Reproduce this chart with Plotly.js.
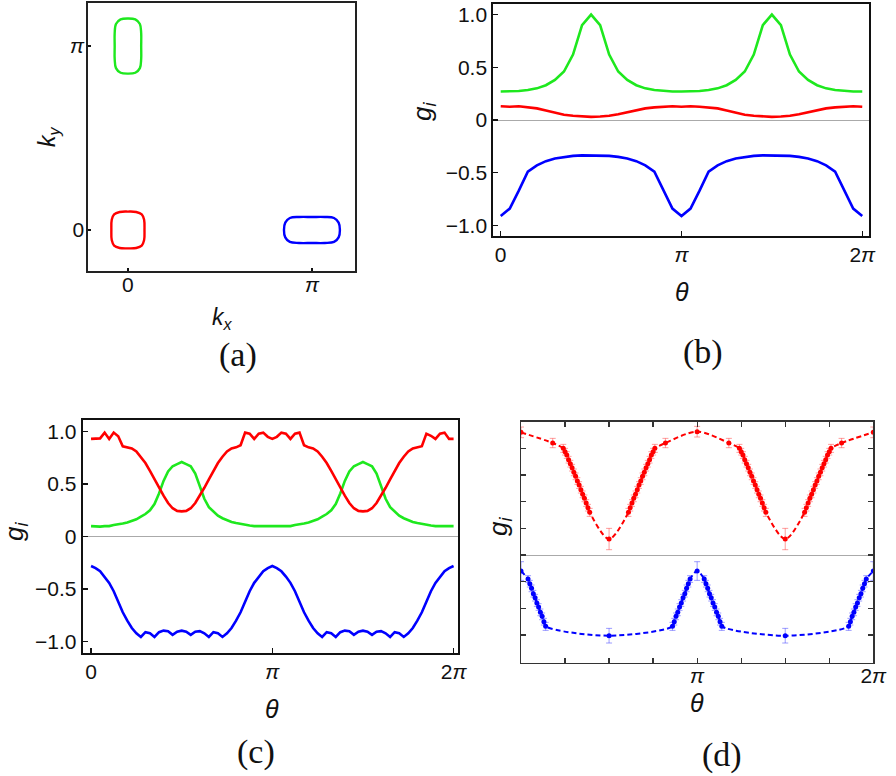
<!DOCTYPE html>
<html>
<head>
<meta charset="utf-8">
<script src="https://cdn.plot.ly/plotly-3.0.1.min.js"></script>
<style>html,body{margin:0;padding:0;background:#fff;} #plot{width:896px;height:776px;}</style>
</head>
<body>
<div id="plot"></div>
<script>
// ---------------- Panel (a): Fermi-surface contours (units of pi) ----------------
const redA_x   = [0.09, 0.088, 0.075, 0.045, 0, -0.045, -0.075, -0.088, -0.09, -0.088, -0.075, -0.045, 0, 0.045, 0.075, 0.088, 0.09];
const redA_y   = [0, 0.055, 0.085, 0.098, 0.10, 0.098, 0.085, 0.055, 0, -0.055, -0.085, -0.098, -0.10, -0.098, -0.085, -0.055, 0];
const greenA_x = [0.072, 0.072, 0.065, 0.04, 0, -0.04, -0.065, -0.072, -0.072, -0.072, -0.065, -0.04, 0, 0.04, 0.065, 0.072, 0.072];
const greenA_y = [1, 1.07, 1.12, 1.145, 1.15, 1.145, 1.12, 1.07, 1, 0.93, 0.88, 0.855, 0.85, 0.855, 0.88, 0.93, 1];
const blueA_x  = [1.152, 1.145, 1.12, 1.07, 1.0, 0.93, 0.88, 0.855, 0.848, 0.855, 0.88, 0.93, 1.0, 1.07, 1.12, 1.145, 1.152];
const blueA_y  = [0, 0.04, 0.065, 0.0707, 0.0707, 0.0707, 0.065, 0.04, 0, -0.04, -0.065, -0.0707, -0.0707, -0.0707, -0.065, -0.04, 0];
const tickA_vals = [0, 1];
const tickA_text = ['0', '<i>π</i>'];

// ---------------- Panel (b) ----------------
const thetaB = [0,0.05,0.1,0.15,0.2,0.25,0.3,0.35,0.4,0.45,0.5,0.55,0.6,0.65,0.7,0.75,0.8,0.85,0.9,0.95,
                1,1.05,1.1,1.15,1.2,1.25,1.3,1.35,1.4,1.45,1.5,1.55,1.6,1.65,1.7,1.75,1.8,1.85,1.9,1.95,2];
const greenB = [0.27,0.27,0.275,0.285,0.30,0.33,0.38,0.46,0.62,0.90,1.00,0.90,0.62,0.46,0.38,0.33,0.30,0.285,0.275,0.27,
                0.27,0.27,0.275,0.285,0.30,0.33,0.38,0.46,0.62,0.90,1.00,0.90,0.62,0.46,0.38,0.33,0.30,0.285,0.275,0.27,0.27];
const redB   = [0.13,0.125,0.13,0.12,0.11,0.09,0.07,0.05,0.04,0.033,0.03,0.033,0.04,0.055,0.075,0.095,0.11,0.12,0.125,0.13,
                0.125,0.13,0.125,0.12,0.11,0.09,0.07,0.05,0.04,0.033,0.03,0.033,0.04,0.055,0.075,0.095,0.11,0.12,0.125,0.13,0.125];
const blueB  = [-0.91,-0.84,-0.67,-0.49,-0.43,-0.39,-0.365,-0.35,-0.34,-0.335,-0.335,-0.335,-0.34,-0.35,-0.365,-0.39,-0.43,-0.49,-0.67,-0.84,
                -0.91,-0.84,-0.67,-0.49,-0.43,-0.39,-0.365,-0.35,-0.34,-0.335,-0.335,-0.335,-0.34,-0.35,-0.365,-0.39,-0.43,-0.49,-0.67,-0.84,-0.91];

// ---------------- Panel (c) ----------------
const thetaC = [0,0.025,0.05,0.075,0.1,0.125,0.15,0.175,0.2,0.225,0.25,0.275,0.3,0.325,0.35,0.375,0.4,0.425,0.45,0.475,
                0.5,0.525,0.55,0.575,0.6,0.625,0.65,0.675,0.7,0.725,0.75,0.775,0.8,0.825,0.85,0.875,0.9,0.925,0.95,0.975,
                1,1.025,1.05,1.075,1.1,1.125,1.15,1.175,1.2,1.225,1.25,1.275,1.3,1.325,1.35,1.375,1.4,1.425,1.45,1.475,
                1.5,1.525,1.55,1.575,1.6,1.625,1.65,1.675,1.7,1.725,1.75,1.775,1.8,1.825,1.85,1.875,1.9,1.925,1.95,1.975,2];
const redC   = [0.93,0.93,0.935,0.99,0.93,0.99,0.955,0.86,0.85,0.84,0.81,0.76,0.70,0.625,0.545,0.465,0.39,0.32,0.27,0.245,
                0.24,0.245,0.27,0.32,0.39,0.465,0.545,0.625,0.70,0.76,0.81,0.84,0.85,0.87,0.99,0.98,0.93,0.98,0.99,0.95,
                0.93,0.95,0.99,0.98,0.93,0.98,0.99,0.87,0.85,0.84,0.81,0.76,0.70,0.625,0.545,0.465,0.39,0.32,0.27,0.245,
                0.24,0.245,0.27,0.32,0.39,0.465,0.545,0.625,0.70,0.76,0.81,0.84,0.85,0.86,0.98,0.96,0.93,0.98,0.99,0.93,0.93];
const greenC = [0.10,0.095,0.095,0.10,0.10,0.11,0.115,0.125,0.135,0.15,0.165,0.19,0.215,0.25,0.31,0.41,0.53,0.62,0.67,0.69,
                0.71,0.69,0.67,0.60,0.47,0.36,0.28,0.235,0.20,0.175,0.155,0.14,0.13,0.12,0.11,0.105,0.10,0.10,0.095,0.095,
                0.095,0.095,0.095,0.10,0.10,0.11,0.115,0.125,0.135,0.15,0.165,0.19,0.215,0.25,0.31,0.41,0.53,0.62,0.67,0.69,
                0.71,0.69,0.67,0.60,0.47,0.36,0.28,0.235,0.20,0.175,0.155,0.14,0.13,0.12,0.11,0.105,0.10,0.10,0.095,0.095,0.10];
const blueC  = [-0.28,-0.30,-0.33,-0.38,-0.44,-0.52,-0.62,-0.72,-0.80,-0.87,-0.92,-0.955,-0.91,-0.92,-0.955,-0.91,-0.895,-0.90,-0.935,-0.905,
                -0.895,-0.905,-0.935,-0.905,-0.90,-0.92,-0.955,-0.91,-0.92,-0.955,-0.92,-0.87,-0.80,-0.72,-0.62,-0.52,-0.44,-0.38,-0.33,-0.30,
                -0.28,-0.30,-0.33,-0.38,-0.44,-0.52,-0.62,-0.72,-0.80,-0.87,-0.92,-0.955,-0.91,-0.92,-0.955,-0.91,-0.895,-0.90,-0.935,-0.905,
                -0.895,-0.905,-0.935,-0.905,-0.90,-0.92,-0.955,-0.91,-0.92,-0.955,-0.92,-0.87,-0.80,-0.72,-0.62,-0.52,-0.44,-0.38,-0.33,-0.30,-0.28];

// ---------------- Panel (d): data with error bars ----------------
const redD_theta = [0,0.18,0.24,0.25,0.26,0.27,0.28,0.29,0.30,0.31,0.32,0.33,0.34,0.35,0.36,0.37,0.38,0.39,
                    0.5,0.61,0.62,0.63,0.64,0.65,0.66,0.67,0.68,0.69,0.70,0.71,0.72,0.73,0.74,0.75,0.76,0.82,
                    1,1.18,1.24,1.25,1.26,1.27,1.28,1.29,1.30,1.31,1.32,1.33,1.34,1.35,1.36,1.37,1.38,1.39,
                    1.5,1.61,1.62,1.63,1.64,1.65,1.66,1.67,1.68,1.69,1.70,1.71,1.72,1.73,1.74,1.75,1.76,1.82,2];
const redD = [0.92,0.84,0.80,0.775,0.75,0.715,0.685,0.655,0.62,0.59,0.555,0.525,0.49,0.455,0.425,0.39,0.355,0.32,
              0.12,0.32,0.355,0.39,0.425,0.455,0.49,0.525,0.555,0.59,0.62,0.655,0.685,0.715,0.75,0.775,0.80,0.84,
              0.925,0.84,0.80,0.775,0.75,0.715,0.685,0.655,0.62,0.59,0.555,0.525,0.49,0.455,0.425,0.39,0.355,0.32,
              0.12,0.32,0.355,0.39,0.425,0.455,0.49,0.525,0.555,0.59,0.62,0.655,0.685,0.715,0.75,0.775,0.80,0.84,0.92];
const redD_err = [0.04,0.035,0.03,0.025,0.025,0.025,0.025,0.025,0.025,0.025,0.025,0.025,0.025,0.025,0.025,0.025,0.025,0.03,
                  0.08,0.03,0.025,0.025,0.025,0.025,0.025,0.025,0.025,0.025,0.025,0.025,0.025,0.025,0.025,0.025,0.03,0.035,
                  0.04,0.035,0.03,0.025,0.025,0.025,0.025,0.025,0.025,0.025,0.025,0.025,0.025,0.025,0.025,0.025,0.025,0.03,
                  0.08,0.03,0.025,0.025,0.025,0.025,0.025,0.025,0.025,0.025,0.025,0.025,0.025,0.025,0.025,0.025,0.03,0.035,0.04];
const blueD_theta = [0,0.04,0.05,0.06,0.07,0.08,0.09,0.10,0.11,0.12,0.13,0.14,
                     0.5,0.86,0.87,0.88,0.89,0.90,0.91,0.92,0.93,0.94,0.95,0.96,
                     1,1.04,1.05,1.06,1.07,1.08,1.09,1.10,1.11,1.12,1.13,1.14,
                     1.5,1.86,1.87,1.88,1.89,1.90,1.91,1.92,1.93,1.94,1.95,1.96,2];
const blueD = [-0.12,-0.18,-0.215,-0.25,-0.29,-0.32,-0.36,-0.39,-0.43,-0.46,-0.50,-0.535,
               -0.605,-0.535,-0.50,-0.46,-0.43,-0.39,-0.36,-0.32,-0.29,-0.25,-0.215,-0.18,
               -0.12,-0.18,-0.215,-0.25,-0.29,-0.32,-0.36,-0.39,-0.43,-0.46,-0.50,-0.535,
               -0.605,-0.535,-0.50,-0.46,-0.43,-0.39,-0.36,-0.32,-0.29,-0.25,-0.215,-0.18,-0.12];
const blueD_err = [0.07,0.025,0.025,0.025,0.025,0.025,0.025,0.025,0.025,0.025,0.025,0.03,
                   0.055,0.03,0.025,0.025,0.025,0.025,0.025,0.025,0.025,0.025,0.025,0.025,
                   0.07,0.025,0.025,0.025,0.025,0.025,0.025,0.025,0.025,0.025,0.025,0.03,
                   0.055,0.03,0.025,0.025,0.025,0.025,0.025,0.025,0.025,0.025,0.025,0.025,0.07];

const tickTheta_vals = [0, 1, 2];
const tickTheta_text = ['0', '<i>π</i>', '2<i>π</i>'];
const tickG_vals = [-1, -0.5, 0, 0.5, 1];
const tickG_text = ['−1.0', '−0.5', '0', '0.5', '1.0'];
const tickD_xvals = [0,0.25,0.5,0.75,1,1.25,1.5,1.75,2];
const tickD_xtext = ['','','','','<i>π</i>','','','','2<i>π</i>'];
const tickD_yvals = [-0.6,-0.4,-0.2,0,0.2,0.4,0.6,0.8];

// ---------------- styling ----------------
const RED = '#ff0000', GREEN = '#1ee81e', BLUE = '#0000ff';
const SANS = 'Liberation Sans, Arial, sans-serif';
const SERIF = 'Liberation Serif, Times New Roman, serif';
const W = 896, H = 776;
const px = v => v / W;
const py = v => 1 - v / H;

function lineTrace(x, y, color, xa, ya, w, shape) {
  return {x: x, y: y, xaxis: xa, yaxis: ya, type: 'scatter', mode: 'lines',
          line: {color: color, width: w || 2.6, shape: shape || 'linear', smoothing: 1},
          hoverinfo: 'skip', showlegend: false};
}
function dataTrace(x, y, err, color, errColor) {
  return {x: x, y: y, xaxis: 'x4', yaxis: 'y4', type: 'scatter', mode: 'lines+markers',
          line: {color: color, width: 2, dash: '5px,3px', shape: 'spline', smoothing: 0.9},
          marker: {color: color, size: 5},
          error_y: {type: 'data', array: err, visible: true, color: errColor, thickness: 1, width: 3},
          hoverinfo: 'skip', showlegend: false};
}

const traces = [
  lineTrace(redA_x, redA_y, RED, 'x', 'y', 2.4, 'spline'),
  lineTrace(greenA_x, greenA_y, GREEN, 'x', 'y', 2.4, 'spline'),
  lineTrace(blueA_x, blueA_y, BLUE, 'x', 'y', 2.4, 'spline'),
  lineTrace(thetaB, greenB, GREEN, 'x2', 'y2'),
  lineTrace(thetaB, redB, RED, 'x2', 'y2'),
  lineTrace(thetaB, blueB, BLUE, 'x2', 'y2'),
  lineTrace(thetaC, greenC, GREEN, 'x3', 'y3'),
  lineTrace(thetaC, redC, RED, 'x3', 'y3'),
  lineTrace(thetaC, blueC, BLUE, 'x3', 'y3'),
  dataTrace(redD_theta, redD, redD_err, RED, 'rgba(255,60,60,0.5)'),
  dataTrace(blueD_theta, blueD, blueD_err, BLUE, 'rgba(60,60,255,0.5)')
];

function frameAxis(extra) {
  return Object.assign({
    showline: true, mirror: true, linecolor: '#111', linewidth: 2,
    showgrid: false, zeroline: false, ticks: 'inside', ticklen: 5, tickwidth: 1.5, tickcolor: '#111',
    tickmode: 'array', fixedrange: true
  }, extra);
}
const TF = {family: SANS, size: 21, color: '#111'};

const layout = {
  width: W, height: H, autosize: false,
  margin: {l: 0, r: 0, t: 0, b: 0, pad: 0},
  paper_bgcolor: '#fff', plot_bgcolor: '#fff',
  showlegend: false,
  font: {family: SANS, color: '#111'},
  // (a)
  xaxis: frameAxis({domain: [px(88), px(355)], range: [-0.217, 1.234], anchor: 'y',
         tickvals: tickA_vals, ticktext: tickA_text, ticklen: 3, linewidth: 1.6, linecolor: '#222',
         tickfont: TF, ticklabelstandoff: -6}),
  yaxis: frameAxis({domain: [py(271), py(3)], range: [-0.223, 1.234], anchor: 'x',
         tickvals: tickA_vals, ticktext: tickA_text, ticklen: 3, linewidth: 1.6, linecolor: '#222',
         tickfont: TF, ticklabelstandoff: -2}),
  // (b)
  xaxis2: frameAxis({domain: [px(493.3), px(869.3)], range: [-0.041, 2.039], anchor: 'y2',
          tickvals: tickTheta_vals, ticktext: tickTheta_text,
          tickfont: TF, ticklabelstandoff: -1}),
  yaxis2: frameAxis({domain: [py(236), py(4)], range: [-1.1, 1.1], anchor: 'x2',
          tickvals: tickG_vals, ticktext: tickG_text,
          zeroline: true, zerolinecolor: '#aaaaaa', zerolinewidth: 1,
          tickfont: TF, ticklabelstandoff: 0}),
  // (c)
  xaxis3: frameAxis({domain: [px(82.7), px(458.3)], range: [-0.046, 2.026], anchor: 'y3',
          tickvals: tickTheta_vals, ticktext: tickTheta_text,
          tickfont: TF, ticklabelstandoff: -1}),
  yaxis3: frameAxis({domain: [py(652.7), py(420)], range: [-1.105, 1.11], anchor: 'x3',
          tickvals: tickG_vals, ticktext: tickG_text,
          zeroline: true, zerolinecolor: '#aaaaaa', zerolinewidth: 1,
          tickfont: TF, ticklabelstandoff: 0}),
  // (d)
  xaxis4: frameAxis({domain: [px(521), px(873.3)], range: [0, 2], anchor: 'y4',
          tickvals: tickD_xvals, ticktext: tickD_xtext, mirror: 'ticks', linewidth: 1.3, linecolor: '#333',
          tickcolor: '#333', tickwidth: 1.3,
          tickfont: TF, ticklabelstandoff: -6}),
  yaxis4: frameAxis({domain: [py(662.7), py(421.7)], range: [-0.8075, 1.0], anchor: 'x4',
          tickvals: tickD_yvals, ticktext: tickD_yvals.map(() => ''), mirror: 'ticks', linewidth: 1.3, linecolor: '#333',
          tickcolor: '#333', tickwidth: 1.3,
          zeroline: true, zerolinecolor: '#aaaaaa', zerolinewidth: 1}),
  annotations: []
};

function ann(text, x, y, size, family, angle) {
  return {text: text, x: px(x), y: py(y), xref: 'paper', yref: 'paper', showarrow: false,
          xanchor: 'center', yanchor: 'middle', textangle: angle || 0,
          font: {family: family || SANS, size: size, color: '#111'}};
}
layout.annotations.push(
  ann('<i>k</i><sub><i>x</i></sub>', 222, 318, 23),
  ann('<i>k</i><sub><i>y</i></sub>', 48, 137, 23, SANS, -90),
  ann('(a)', 238, 355, 34, SERIF),
  ann('<i>θ</i>', 682, 292, 25),
  ann('<i>g</i><sub><i>i</i></sub>', 424, 112, 26, SANS, -90),
  ann('(b)', 703, 352, 34, SERIF),
  ann('<i>θ</i>', 272, 709, 25),
  ann('<i>g</i><sub><i>i</i></sub>', 15, 532, 26, SANS, -90),
  ann('(c)', 256, 752, 34, SERIF),
  ann('<i>θ</i>', 697, 703, 25),
  ann('<i>g</i><sub><i>i</i></sub>', 499, 527, 26, SANS, -90),
  ann('(d)', 721.7, 755, 34, SERIF)
);

Plotly.newPlot('plot', traces, layout, {staticPlot: true, displayModeBar: false});
</script>
</body>
</html>
